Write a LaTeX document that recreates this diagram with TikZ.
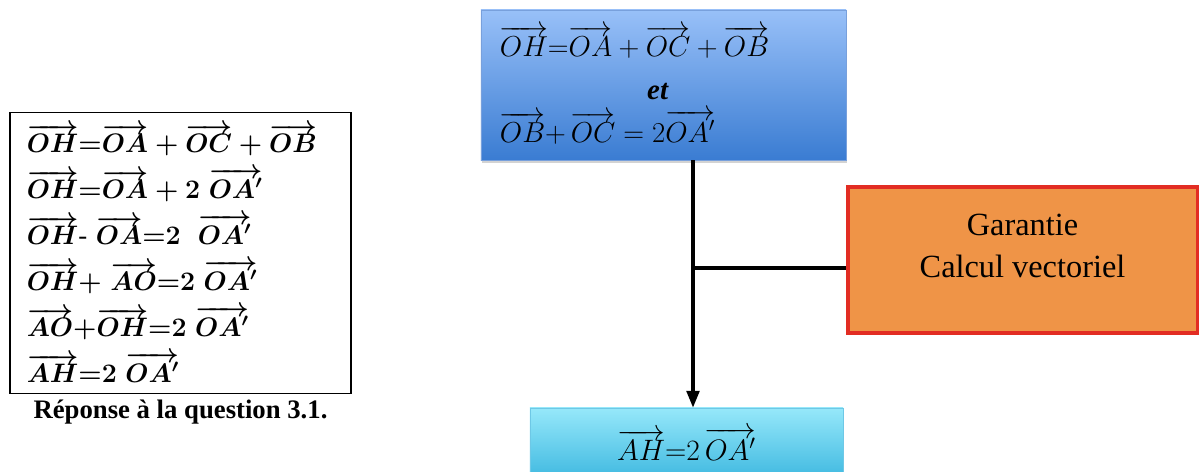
\RequirePackage{fix-cm}
\documentclass[tikz,border=0pt]{standalone}
\usepackage{amsmath}
\usepackage{fontspec}
\setmainfont{Liberation Serif}
\newfontfamily\timesface{Liberation Serif}
\usetikzlibrary{positioning, arrows.meta, shadows}

\begin{document}
\begin{tikzpicture}[
    x=0.025cm, y=-0.025cm,
    >={Triangle[width=9pt, length=12pt]},
    answers/.style={rectangle, draw=black, line width=0.8pt, minimum width=8.525cm, minimum height=7.025cm, align=left, text width=7.685cm, inner xsep=0.42cm, font=\fontsize{19}{32.7}\selectfont\boldmath},
    caption/.style={font=\timesface\fontsize{19}{22}\selectfont\bfseries, inner sep=1pt},
    premise/.style={rectangle, draw={rgb,255:red,120;green,160;blue,220}, line width=0.4pt, top color={rgb,255:red,152;green,192;blue,248}, bottom color={rgb,255:red,58;green,124;blue,210}, minimum width=9.125cm, minimum height=3.75cm, align=left, text width=8.175cm, inner xsep=0.475cm, font=\timesface\fontsize{20.5}{30.5}\selectfont, drop shadow={opacity=0.35, shadow xshift=1pt, shadow yshift=-2pt}},
    guarantee/.style={rectangle, draw={rgb,255:red,226;green,45;blue,35}, line width=2.2pt, fill={rgb,255:red,239;green,148;blue,71}, minimum width=8.725cm, minimum height=3.65cm, drop shadow={opacity=0.25, shadow xshift=1pt, shadow yshift=-1.5pt}},
    guaranteetext/.style={align=center, font=\timesface\fontsize{23}{30.5}\selectfont},
    result/.style={rectangle, draw={rgb,255:red,110;green,200;blue,230}, line width=0.4pt, top color={rgb,255:red,150;green,232;blue,250}, bottom color={rgb,255:red,62;green,184;blue,224}, minimum width=7.825cm, minimum height=1.8cm, font=\fontsize{21}{24}\selectfont, drop shadow={opacity=0.35, shadow xshift=1pt, shadow yshift=-2pt}},
    link/.style={line width=2.4pt, black}
]
    \useasboundingbox (0,0) rectangle (1199,472);

    % left box: the answer
    \node[answers] at (180.5,253) (answer) {%
        $\overrightarrow{OH}{=}\overrightarrow{OA}+\overrightarrow{OC}+\overrightarrow{OB}$\\
        $\overrightarrow{OH}{=}\overrightarrow{OA}+2\;\overrightarrow{OA'}$\\
        $\overrightarrow{OH}\text{-}\;\overrightarrow{OA}{=}2\;\;\overrightarrow{OA'}$\\
        $\overrightarrow{OH}{+}\;\overrightarrow{AO}{=}2\;\overrightarrow{OA'}$\\
        $\overrightarrow{AO}{+}\overrightarrow{OH}{=}2\;\overrightarrow{OA'}$\\
        $\overrightarrow{AH}{=}2\;\overrightarrow{OA'}$};
    \node[caption, below=3pt of answer] (question) {Réponse à la question 3.1.};

    % right part: argument
    \node[premise] at (663.5,85) (data) {%
        $\overrightarrow{OH}{=}\overrightarrow{OA}+\overrightarrow{OC}+\overrightarrow{OB}$\\
        \makebox[7.9cm]{\textbf{\textit{et}}}\\
        $\overrightarrow{OB}{+}\,\overrightarrow{OC}=2\overrightarrow{OA'}$};
    \node[guarantee] at (1022.5,260) (warrant) {};
    \node[guaranteetext] at ([yshift=10pt]warrant.center) (warranttext) {Garantie\\Calcul vectoriel};
    \node[result] at (686.5,444) (claim) {$\overrightarrow{AH}{=}2\,\overrightarrow{OA'}$};

    \coordinate (split) at (693,268);
    \draw[link, ->] (data.south -| split) -- (claim.north -| split);
    \draw[link] (split) -- (split -| warrant.west);
\end{tikzpicture}
\end{document}
